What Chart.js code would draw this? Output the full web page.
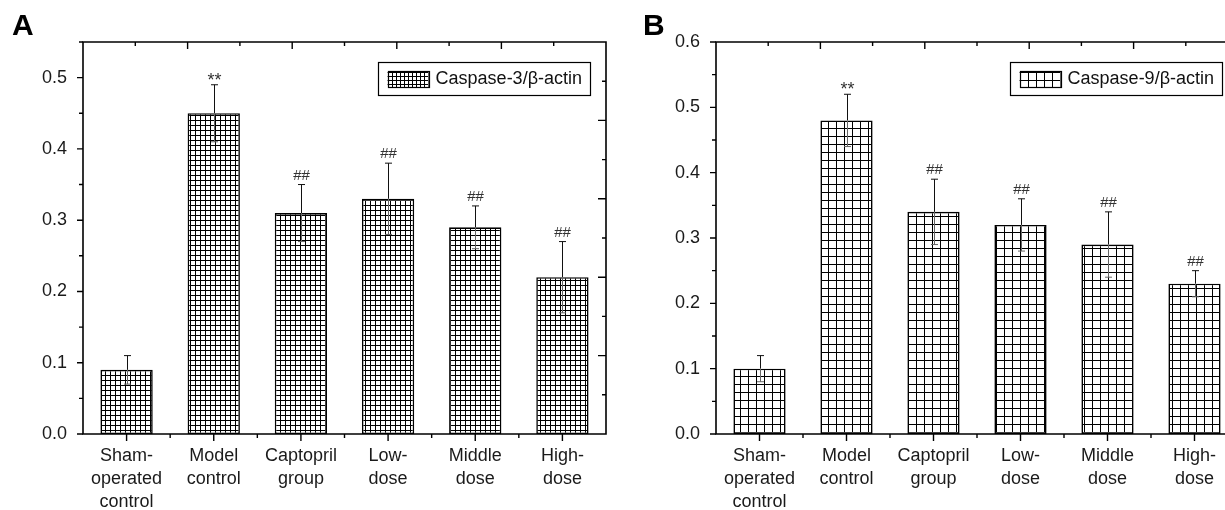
<!DOCTYPE html>
<html>
<head>
<meta charset="utf-8">
<script src="https://cdn.jsdelivr.net/npm/chart.js@4.4.1/dist/chart.umd.min.js"></script>
<style>
    html, body { margin: 0; padding: 0; background: #fff; overflow: hidden; width: 1225px; height: 510px; }
    .panel { position: absolute; top: 0; height: 510px; }
    #panelA { left: 0; width: 615px; }
    #panelB { left: 612px; width: 640px; }
</style>
</head>
<body>
<div class="panel" id="panelA"><canvas id="chartA"></canvas></div>
<div class="panel" id="panelB"><canvas id="chartB"></canvas></div>
<script>
// Group labels (multi-line, as printed under the bars)
const groups = [
    ['Sham-', 'operated', 'control'],
    ['Model', 'control'],
    ['Captopril', 'group'],
    ['Low-', 'dose'],
    ['Middle', 'dose'],
    ['High-', 'dose']
];

// Panel A: Caspase-3/β-actin
const casp3 = [0.09, 0.45, 0.31, 0.33, 0.29, 0.22];
const casp3Err = [0.02, 0.04, 0.04, 0.05, 0.03, 0.05];
const yTicksA = [0.0, 0.1, 0.2, 0.3, 0.4, 0.5];

// Panel B: Caspase-9/β-actin
const casp9 = [0.10, 0.48, 0.34, 0.32, 0.29, 0.23];
const casp9Err = [0.02, 0.04, 0.05, 0.04, 0.05, 0.02];
const yTicksB = [0.0, 0.1, 0.2, 0.3, 0.4, 0.5, 0.6];

// Significance marks above the error bars
const marks = ['', '**', '##', '##', '##', '##'];

const FONT = "'Liberation Sans', Arial, sans-serif";

Chart.defaults.font.family = FONT;
Chart.defaults.color = '#1a1a1a';

/**
 * Square grid hatch used to fill the bars
 */
function gridPattern(ctx, cell) {
    const c = document.createElement('canvas');
    c.width = cell;
    c.height = cell;
    const g = c.getContext('2d');
    g.fillStyle = '#fff';
    g.fillRect(0, 0, cell, cell);
    g.fillStyle = '#000';
    g.fillRect(0, 0, cell, 1);
    g.fillRect(0, 0, 1, cell);
    return ctx.createPattern(c, 'repeat');
}

/**
 * Frame, ticks, error bars, marks, legend and panel letter
 */
const framePlugin = {
    id: 'frame',
    afterDatasetsDraw(chart, args, opts) {
        const ctx = chart.ctx;
        const area = chart.chartArea;
        const y = chart.scales.y;
        const meta = chart.getDatasetMeta(0);
        const values = chart.data.datasets[0].data;

        ctx.save();

        // error bars
        meta.data.forEach((bar, i) => {
            const v = values[i];
            const e = opts.err[i];
            const top = y.getPixelForValue(v + e);
            const base = y.getPixelForValue(v);
            const low = y.getPixelForValue(v - e);
            const x = Math.round(bar.x) + 0.5;
            ctx.lineWidth = 1;
            ctx.strokeStyle = '#111';
            ctx.beginPath();
            ctx.moveTo(x, base);
            ctx.lineTo(x, top);
            ctx.moveTo(x - 3.5, top);
            ctx.lineTo(x + 3.5, top);
            ctx.stroke();
            ctx.strokeStyle = '#666';
            ctx.beginPath();
            ctx.moveTo(x, base);
            ctx.lineTo(x, low);
            ctx.moveTo(x - 3.5, low);
            ctx.lineTo(x + 3.5, low);
            ctx.stroke();

            // significance marks
            const m = opts.marks[i];
            if (m) {
                ctx.font = (m === '**' ? '18px ' : '15px ') + FONT;
                ctx.fillStyle = '#333';
                ctx.textAlign = 'center';
                ctx.textBaseline = 'alphabetic';
                const d = ctx.measureText(m).actualBoundingBoxDescent;
                ctx.fillText(m, x, top - 5 - d);
            }
        });

        // frame
        ctx.strokeStyle = '#000';
        ctx.lineWidth = 1.6;
        ctx.beginPath();
        ctx.moveTo(area.left, area.top);
        ctx.lineTo(area.right, area.top);
        ctx.lineTo(area.right, area.bottom);
        ctx.lineTo(area.left, area.bottom);
        ctx.closePath();
        ctx.stroke();

        ctx.lineWidth = 1.4;
        ctx.beginPath();
        // left axis ticks (outward), minor halfway
        y.ticks.forEach((t, i) => {
            const py = y.getPixelForValue(t.value);
            ctx.moveTo(area.left, py);
            ctx.lineTo(area.left - 6, py);
            if (i < y.ticks.length - 1) {
                const pm = y.getPixelForValue(t.value + 0.05);
                ctx.moveTo(area.left, pm);
                ctx.lineTo(area.left - 4, pm);
            }
        });
        if (y.max - y.ticks[y.ticks.length - 1].value > 0.04) {
            const pm = y.getPixelForValue(y.ticks[y.ticks.length - 1].value + 0.05);
            ctx.moveTo(area.left, pm);
            ctx.lineTo(area.left - 4, pm);
        }
        // bottom axis ticks (outward)
        const step = (meta.data[1].x - meta.data[0].x);
        meta.data.forEach((bar, i) => {
            ctx.moveTo(bar.x, area.bottom);
            ctx.lineTo(bar.x, area.bottom + 7);
            if (i < meta.data.length - 1) {
                ctx.moveTo(bar.x + step / 2, area.bottom);
                ctx.lineTo(bar.x + step / 2, area.bottom + 4);
            }
        });
        // top axis ticks (inward), 10 divisions
        const w = area.right - area.left;
        for (let k = 1; k < 10; k++) {
            const px = area.left + w * k / 10;
            ctx.moveTo(px, area.top);
            ctx.lineTo(px, area.top + (k % 2 === 0 ? 7 : 4));
        }
        // right axis ticks (inward), 10 divisions
        if (opts.rightTicks) {
            const h = area.bottom - area.top;
            for (let k = 1; k < 10; k++) {
                const py = area.bottom - h * k / 10;
                ctx.moveTo(area.right, py);
                ctx.lineTo(area.right - (k % 2 === 0 ? 8 : 4), py);
            }
        }
        ctx.stroke();

        // legend box
        ctx.font = '18px ' + FONT;
        const tw = ctx.measureText(opts.legend).width;
        const boxR = area.right - 16;
        const boxW = 10 + 41 + 7 + tw + 8;
        const boxL = boxR - boxW;
        const boxT = area.top + 20;
        ctx.lineWidth = 1.2;
        ctx.strokeStyle = '#000';
        ctx.strokeRect(Math.round(boxL) + 0.5, boxT + 0.5, Math.round(boxW), 33);
        ctx.fillStyle = gridPattern(ctx, opts.legendCell);
        ctx.fillRect(boxL + 10, boxT + 9, 41, 16);
        ctx.strokeRect(Math.round(boxL + 10) + 0.5, boxT + 9.5, 41, 16);
        ctx.fillStyle = '#111';
        ctx.textAlign = 'left';
        ctx.textBaseline = 'middle';
        ctx.fillText(opts.legend, boxL + 58, boxT + 17);

        // panel letter
        ctx.font = 'bold 30px ' + FONT;
        ctx.fillStyle = '#000';
        ctx.textBaseline = 'alphabetic';
        ctx.fillText(opts.letter, opts.letterX, 35);

        ctx.restore();
    }
};

/**
 * Build one bar panel
 */
function createPanel(id, values, err, yTicks, yMax, cfg) {
    const canvas = document.getElementById(id);
    const ctx = canvas.getContext('2d');

    return new Chart(canvas, {
        type: 'bar',
        data: {
            labels: groups,
            datasets: [{
                label: cfg.legend,
                data: values,
                backgroundColor: gridPattern(ctx, cfg.cell),
                borderColor: '#000',
                borderWidth: 1.6,
                borderSkipped: false,
                categoryPercentage: 1.0,
                barPercentage: 0.6
            }]
        },
        options: {
            responsive: true,
            maintainAspectRatio: false,
            animation: false,
            devicePixelRatio: 1,
            layout: {
                padding: { top: 42, right: cfg.padRight, left: 0, bottom: 0 }
            },
            plugins: {
                legend: { display: false },
                tooltip: { enabled: false },
                frame: {
                    err: err,
                    marks: marks,
                    legend: cfg.legend,
                    legendCell: cfg.legendCell,
                    letter: cfg.letter,
                    letterX: cfg.letterX,
                    rightTicks: cfg.rightTicks
                }
            },
            scales: {
                x: {
                    grid: { display: false, drawTicks: false },
                    border: { display: false },
                    ticks: {
                        autoSkip: false,
                        maxRotation: 0,
                        padding: 11,
                        color: '#1a1a1a',
                        font: { size: 18, lineHeight: 1.27 }
                    },
                    afterFit: (scale) => { scale.height = 76; }
                },
                y: {
                    min: 0,
                    max: yMax,
                    grid: { display: false, drawTicks: false },
                    border: { display: false },
                    ticks: {
                        padding: 16,
                        color: '#1a1a1a',
                        font: { size: 18 },
                        callback: (v) => Number(v).toFixed(1)
                    },
                    afterBuildTicks: (scale) => {
                        scale.ticks = yTicks.map(v => ({ value: v }));
                    },
                    afterFit: (scale) => { scale.width = cfg.axisWidth; }
                }
            }
        },
        plugins: [framePlugin]
    });
}

createPanel('chartA', casp3, casp3Err, yTicksA, 0.55, {
    legend: 'Caspase-3/β-actin',
    cell: 5,
    legendCell: 4,
    letter: 'A',
    letterX: 12,
    padRight: 9,
    axisWidth: 83,
    rightTicks: true
});

createPanel('chartB', casp9, casp9Err, yTicksB, 0.6, {
    legend: 'Caspase-9/β-actin',
    cell: 8,
    legendCell: 8,
    letter: 'B',
    letterX: 31,
    padRight: 14,
    axisWidth: 104,
    rightTicks: false
});
</script>
</body>
</html>
